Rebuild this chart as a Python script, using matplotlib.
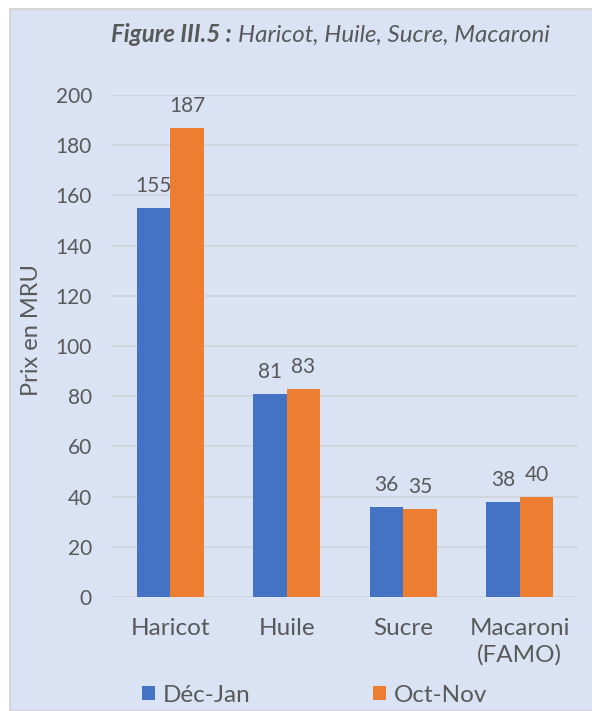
import matplotlib
matplotlib.use("Agg")
import matplotlib.pyplot as plt
from matplotlib.patches import Rectangle
import numpy as np

categories = ["Haricot", "Huile", "Sucre", "Macaroni\n(FAMO)"]
dec_jan = [155, 81, 36, 38]
oct_nov = [187, 83, 35, 40]
series_names = ["Déc-Jan", "Oct-Nov"]
yticks = [0, 20, 40, 60, 80, 100, 120, 140, 160, 180, 200]

BLUE = "#4472C4"
ORANGE = "#ED7D31"
BG = "#DAE3F3"
TXT = "#595959"
GRID = "#D0D3D8"

plt.rcParams["font.family"] = ["Lato", "DejaVu Sans"]

W, H = 592, 711
fig = plt.figure(figsize=(W / 100, H / 100), dpi=100, facecolor="white")

# panel background
fig.patches.append(Rectangle((10 / W, 0), 1, 1 - 9 / H, transform=fig.transFigure,
                             facecolor=BG, edgecolor="#D0D0D0", linewidth=1.2, zorder=-10))

ax = fig.add_axes([112 / W, 1 - 597 / H, (578 - 112) / W, (597 - 95) / H])
ax.set_facecolor("none")

x = np.arange(len(categories))
bw = 0.286
b1 = ax.bar(x - bw / 2, dec_jan, bw, color=BLUE, label=series_names[0], zorder=3)
b2 = ax.bar(x + bw / 2, oct_nov, bw, color=ORANGE, label=series_names[1], zorder=3)

for bars, vals in ((b1, dec_jan), (b2, oct_nov)):
    for r, v in zip(bars, vals):
        ax.annotate(str(v), (r.get_x() + r.get_width() / 2, v), xytext=(0, 11.5),
                    textcoords="offset points", ha="center", va="baseline",
                    fontsize=15, color=TXT)

ax.set_xlim(-0.5, len(categories) - 0.5)
ax.set_ylim(0, 200)
ax.set_yticks(yticks)
ax.set_yticklabels([str(t) for t in yticks], fontsize=15, color=TXT)
ax.set_xticks(x)
ax.set_xticklabels(categories, fontsize=17.5, color=TXT, linespacing=1.32)
ax.tick_params(axis="both", length=0)
ax.tick_params(axis="x", pad=15)
ax.tick_params(axis="y", pad=14.4)
ax.grid(axis="y", color=GRID, linewidth=1.2, zorder=0)
for s in ax.spines.values():
    s.set_visible(False)
ax.axhline(0, color=GRID, linewidth=1.2, zorder=1)

fig.text(32 / W, 1 - 330 / H, "Prix en MRU", rotation=90, ha="center", va="center",
         fontsize=17, color=TXT)

# title: bold italic + italic
fig.text(111 / W, 1 - 42 / H, "Figure III.5 :", fontsize=17.4, fontstyle="italic",
         fontweight="bold", color=TXT, ha="left", va="baseline")
fig.text(238 / W, 1 - 42 / H, "Haricot, Huile, Sucre, Macaroni", fontsize=17.4,
         fontstyle="italic", color=TXT, ha="left", va="baseline")

for bars, name, x0 in ((b1, series_names[0], 141.7), (b2, series_names[1], 373)):
    fig.legend(handles=[bars], labels=[name], loc="center left",
               bbox_to_anchor=(x0 / W, 1 - 695 / H), frameon=False,
               fontsize=17.5, handlelength=0.54, handleheight=0.54, handletextpad=0.33,
               labelcolor=TXT, borderaxespad=0, borderpad=0)

fig.savefig("out.png", dpi=100, facecolor="white")
